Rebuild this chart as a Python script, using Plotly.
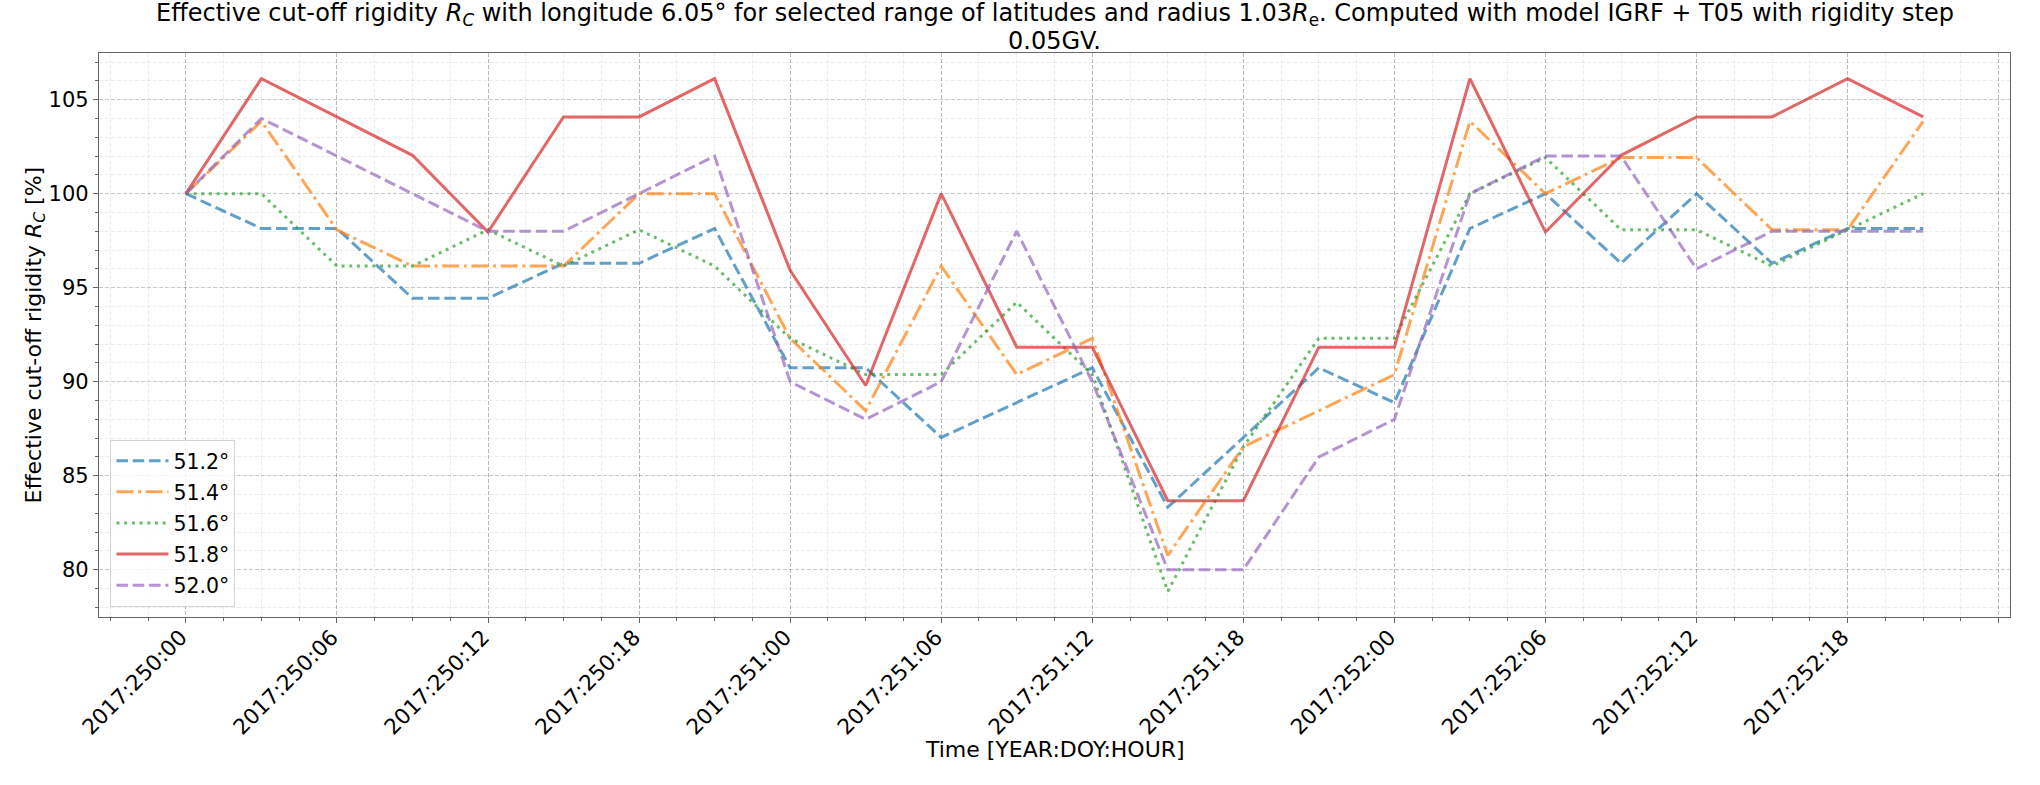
import plotly.graph_objects as go

# --- data -------------------------------------------------------------
time_labels = ["2017:250:00", "2017:250:03", "2017:250:06", "2017:250:09", "2017:250:12",
               "2017:250:15", "2017:250:18", "2017:250:21", "2017:251:00", "2017:251:03",
               "2017:251:06", "2017:251:09", "2017:251:12", "2017:251:15", "2017:251:18",
               "2017:251:21", "2017:252:00", "2017:252:03", "2017:252:06", "2017:252:09",
               "2017:252:12", "2017:252:15", "2017:252:18", "2017:252:21"]

lat_51_2 = [100, 98.15, 98.15, 94.44, 94.44, 96.30, 96.30, 98.15, 90.74, 90.74, 87.04, 88.89,
            90.74, 83.33, 87.04, 90.74, 88.89, 98.15, 100, 96.30, 100, 96.30, 98.15, 98.15]
lat_51_4 = [100, 103.85, 98.08, 96.15, 96.15, 96.15, 100, 100, 92.31, 88.46, 96.15, 90.38,
            92.31, 80.77, 86.54, 88.46, 90.38, 103.85, 100, 101.92, 101.92, 98.08, 98.08, 103.85]
lat_51_6 = [100, 100, 96.15, 96.15, 98.08, 96.15, 98.08, 96.15, 92.31, 90.38, 90.38, 94.23,
            90.38, 78.85, 86.54, 92.31, 92.31, 100, 101.92, 98.08, 98.08, 96.15, 98.08, 100]
lat_51_8 = [100, 106.12, 104.08, 102.04, 97.96, 104.08, 104.08, 106.12, 95.92, 89.80, 100, 91.84,
            91.84, 83.67, 83.67, 91.84, 91.84, 106.12, 97.96, 102.04, 104.08, 104.08, 106.12, 104.08]
lat_52_0 = [100, 104, 102, 100, 98, 98, 100, 102, 90, 88, 90, 98,
            90, 80, 80, 86, 88, 100, 102, 102, 96, 98, 98, 98]

series_names = ["51.2°", "51.4°", "51.6°", "51.8°", "52.0°"]
series_values = [lat_51_2, lat_51_4, lat_51_6, lat_51_8, lat_52_0]

tick_labels = ["2017:250:00", "2017:250:06", "2017:250:12", "2017:250:18", "2017:251:00",
               "2017:251:06", "2017:251:12", "2017:251:18", "2017:252:00", "2017:252:06",
               "2017:252:12", "2017:252:18", ""]

title_line1 = ("Effective cut-off rigidity <i>R</i><sub><i>C</i></sub> with longitude 6.05° for selected "
               "range of latitudes and radius 1.03<i>R</i><sub>e</sub>. Computed with model IGRF + T05 "
               "with rigidity step")
title_line2 = "0.05GV."
x_title = "Time [YEAR:DOY:HOUR]"
y_title = "Effective cut-off rigidity <i>R</i><sub><i>C</i></sub> [%]"


def to_hours(label):
    _, doy, hour = label.split(":")
    return (int(doy) - 250) * 24 + int(hour)


x_hours = [to_hours(t) for t in time_labels]
tick_hours = [i * 6 for i in range(len(tick_labels))]

# --- styles -----------------------------------------------------------
colors = ["rgba(31,119,180,0.7)", "rgba(255,127,14,0.7)", "rgba(44,160,44,0.7)",
          "rgba(214,39,40,0.7)", "rgba(148,103,189,0.7)"]
dashes = ["11.5px,4.8px", "17px,4.6px,3px,4.6px", "3px,4.7px", "solid", "11.5px,4.8px"]

FONT = "DejaVu Sans"
W, H = 2040, 785
ML, MR, MT, MB = 99, 30, 53, 168
PLOT_H = H - MT - MB
PLOT_W = W - ML - MR


def py(pixel_y):   # page pixel y -> paper y
    return 1 + (MT - pixel_y) / PLOT_H


def px(pixel_x):   # page pixel x -> paper x
    return (pixel_x - ML) / PLOT_W


fig = go.Figure()
for i, (name, vals, col, dash) in enumerate(zip(series_names, series_values, colors, dashes)):
    fig.add_trace(go.Scatter(
        x=x_hours, y=vals, mode="lines", name=name, legendgroup=f"g{i}",
        line=dict(color=col, width=3, dash=dash),
        customdata=time_labels,
        hovertemplate="%{customdata}: %{y:.2f}%<extra>" + name + "</extra>",
    ))

major_grid = "rgba(0,0,0,0.22)"
minor_grid = "rgba(0,0,0,0.07)"
spine = "#666666"

fig.update_layout(
    width=W, height=H,
    paper_bgcolor="white", plot_bgcolor="white",
    margin=dict(l=ML, r=MR, t=MT, b=MB),
    font=dict(family=FONT, size=20, color="black"),
    showlegend=True,
    legend=dict(x=0.006, y=0.018, xanchor="left", yanchor="bottom",
                bgcolor="rgba(255,255,255,0.8)", bordercolor="#d4d4d4", borderwidth=1,
                font=dict(family=FONT, size=20.5), traceorder="grouped", tracegroupgap=1.5,
                itemwidth=52),
    annotations=[
        dict(text=title_line1, x=0.5, xref="paper", xanchor="center",
             y=py(14.5), yref="paper", yanchor="middle", showarrow=False,
             font=dict(family=FONT, size=24, color="black")),
        dict(text=title_line2, x=0.5, xref="paper", xanchor="center",
             y=py(40.6), yref="paper", yanchor="middle", showarrow=False,
             font=dict(family=FONT, size=24, color="black")),
        dict(text=x_title, x=0.5, xref="paper", xanchor="center",
             y=py(749), yref="paper", yanchor="middle", showarrow=False,
             font=dict(family=FONT, size=22, color="black")),
        dict(text=y_title, x=px(34.5), xref="paper", xanchor="center",
             y=0.5, yref="paper", yanchor="middle", showarrow=False, textangle=-90,
             font=dict(family=FONT, size=22, color="black")),
    ],
)

fig.update_xaxes(
    range=[-3.45, 72.45],
    tickmode="array", tickvals=tick_hours, ticktext=tick_labels, tickangle=-45,
    tickfont=dict(family=FONT, size=21.5),
    ticklabelstandoff=-7, ticklabelshift=-5,
    ticks="outside", ticklen=5, tickcolor=spine,
    showline=True, linecolor=spine, linewidth=1.3, mirror=True,
    showgrid=True, gridcolor=major_grid, griddash="4px,2px", gridwidth=1,
    zeroline=False,
    minor=dict(tickmode="linear", tick0=0, dtick=1.5, ticks="outside", ticklen=3,
               tickcolor=spine, showgrid=True, gridcolor=minor_grid, griddash="4px,2px"),
)

fig.update_yaxes(
    range=[77.49, 107.48],
    tickmode="linear", tick0=80, dtick=5,
    tickfont=dict(family=FONT, size=21),
    ticks="outside", ticklen=5, tickcolor=spine,
    showline=True, linecolor=spine, linewidth=1.3, mirror=True,
    showgrid=True, gridcolor=major_grid, griddash="4px,2px", gridwidth=1,
    zeroline=False,
    minor=dict(tickmode="linear", tick0=0, dtick=1, ticks="outside", ticklen=3,
               tickcolor=spine, showgrid=True, gridcolor=minor_grid, griddash="4px,2px"),
)

fig.write_html("out.html", config={"displayModeBar": False},
               post_script="document.body.style.margin='0px';")
